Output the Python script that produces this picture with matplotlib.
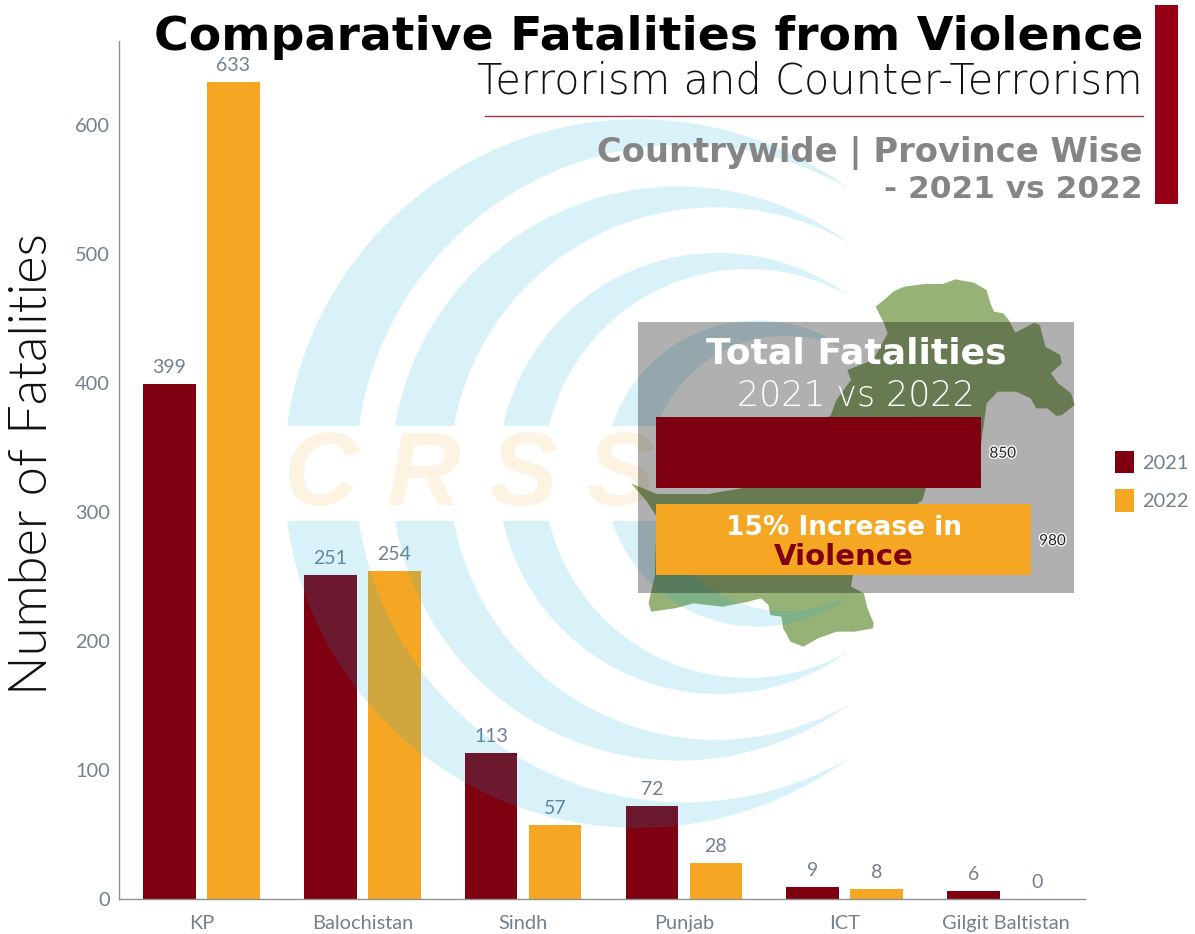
import numpy as np
import matplotlib
matplotlib.use("Agg")
import matplotlib.pyplot as plt
import matplotlib.patheffects as pe
from matplotlib.patches import Polygon, Rectangle

W, H = 1195, 934

categories = ["KP", "Balochistan", "Sindh", "Punjab", "ICT", "Gilgit Baltistan"]
fatalities_2021 = [399, 251, 113, 72, 9, 6]
fatalities_2022 = [633, 254, 57, 28, 8, 0]
y_ticks = [0, 100, 200, 300, 400, 500, 600]
total_years = ["2021", "2022"]
total_values = [850, 980]

MAROON = "#7F0010"
ORANGE = "#F5A623"
GREY = "#72808E"

plt.rcParams["font.family"] = ["Lato", "DejaVu Sans"]
fig = plt.figure(figsize=(W / 100, H / 100), dpi=100, facecolor="white")


def px_axes(x0, y0, x1, y1, **kw):
    return fig.add_axes([x0 / W, 1 - y1 / H, (x1 - x0) / W, (y1 - y0) / H], **kw)


# main chart
ax = px_axes(119, 41, 1085, 899)
ax.set_zorder(1)
ax.set_xlim(-0.513, 5.494)
ax.set_ylim(0, 665)
x = np.arange(len(categories))
b1 = ax.bar(x - 0.199, fatalities_2021, 0.328, color=MAROON, label="2021")
b2 = ax.bar(x + 0.199, fatalities_2022, 0.328, color=ORANGE, label="2022")
for bars, vals in ((b1, fatalities_2021), (b2, fatalities_2022)):
    for r, v in zip(bars, vals):
        ax.annotate(str(v), (r.get_x() + r.get_width() / 2, v), xytext=(0, 12),
                    textcoords="offset points", ha="center", va="center",
                    fontsize=14, color=GREY)
ax.set_xticks(x, categories)
ax.set_yticks(y_ticks)
ax.tick_params(axis="both", length=0, labelsize=14.4, labelcolor=GREY)
ax.tick_params(axis="x", pad=11.5)
ax.tick_params(axis="y", pad=6.5)
for s in ("top", "right"):
    ax.spines[s].set_visible(False)
for s in ("left", "bottom"):
    ax.spines[s].set_color("#8a8f94")
    ax.spines[s].set_linewidth(1)
ax.set_ylabel("Number of Fatalities", fontsize=37.8, fontweight=300, color="#111111", va="center")
ax.yaxis.set_label_coords((33 - 119) / 966, (899 - 464) / 858)
ax.legend(handles=[b1, b2], loc="upper left", bbox_to_anchor=(1109 / W, 1 - 445 / H),
          bbox_transform=fig.transFigure, frameon=False, fontsize=14.4,
          handlelength=0.95, handleheight=1.35, handletextpad=0.42, labelspacing=0.8,
          borderpad=0.3, borderaxespad=0, labelcolor=GREY)

# overlay in pixel coordinates
ov = px_axes(0, 0, W, H)
ov.set_zorder(2)
ov.set_xlim(0, W)
ov.set_ylim(H, 0)
ov.axis("off")
ov.patch.set_alpha(0)

# province map silhouette (zoomed-crop coordinates)
outline = np.array([
    (697, 110), (720, 90), (745, 65), (775, 50), (830, 42), (880, 42), (915, 28), (965, 38),
    (1000, 60), (1010, 100), (1020, 125), (1045, 130), (1060, 150), (1078, 188), (1130, 158),
    (1145, 165), (1160, 230), (1200, 255), (1205, 280), (1175, 310), (1195, 340), (1230, 370),
    (1240, 405), (1205, 435), (1190, 438), (1165, 415), (1135, 415), (1120, 385), (1080, 365),
    (1030, 365), (1000, 400), (995, 440), (985, 520), (835, 652), (825, 690), (810, 702),
    (635, 915), (630, 950), (665, 970), (675, 1015), (692, 1060), (690, 1075), (640, 1085),
    (590, 1085), (540, 1105), (500, 1130), (465, 1115), (445, 1075), (440, 1040), (410, 1035),
    (405, 1005), (385, 985), (350, 995), (280, 1010), (200, 1000), (150, 1015), (85, 1025),
    (78, 1000), (90, 940), (95, 915), (100, 740), (70, 690), (30, 640), (100, 672), (240, 672),
    (330, 655), (575, 435), (590, 390), (630, 330), (620, 300), (690, 270), (730, 190), (720, 160),
])
ov.add_patch(Polygon(np.c_[620 + outline[:, 0] / 2.727, 270 + outline[:, 1] / 3],
                     closed=True, fc="#96B276", ec="none", zorder=1))


# logo rings
def circle_through(left_x, tip_x, tip_dy, gap_dy=47.5):
    c = ((tip_x ** 2 + tip_dy ** 2) - (left_x ** 2 + gap_dy ** 2)) / (2 * (tip_x - left_x))
    return c, np.hypot(c - left_x, gap_dy)


def crescent(left_outer, left_inner, tip_x, tip_dy, sign, cy=473.5, gap=47.5):
    cxo, ro = circle_through(left_outer, tip_x, tip_dy)
    cxi, ri = circle_through(left_inner, tip_x, tip_dy)

    def pts(cx, r):
        a_gap = np.arctan2(gap, np.sqrt(r ** 2 - gap ** 2))
        a_tip = np.arctan2(tip_dy, cx - tip_x)
        a = np.linspace(a_gap, a_tip, 160)
        return np.c_[cx - r * np.cos(a), cy + sign * r * np.sin(a)]

    return np.vstack([pts(cxo, ro), pts(cxi, ri)[::-1]])


rings = [(287, 359, 850, 284), (395, 454, 850, 230), (503, 549, 850, 177), (612, 657, 850, 122)]
for lo, li, tx_, td in rings:
    for sign in (-1, 1):
        ov.add_patch(Polygon(crescent(lo, li, tx_, td, sign), closed=True,
                             fc="#00ADE4", alpha=0.15, ec="none", zorder=2))

ov.text(470, 478, "C R S S", fontsize=74, fontweight="bold", style="italic",
        family="Liberation Sans", color=ORANGE, alpha=0.13, ha="center", va="center", zorder=3)

# grey panel
ov.add_patch(Rectangle((638, 322), 436, 271, fc="black", alpha=0.31, ec="none", zorder=4))

# header
head = "DejaVu Sans"
ov.text(1143, 50, "Comparative Fatalities from Violence", fontsize=34.1, fontweight="bold",
        family=head, color="black", ha="right", va="baseline", zorder=6)
ov.text(1143, 93, "Terrorism and Counter-Terrorism", fontsize=29.9, fontweight="light",
        family=head, color="#111111", ha="right", va="baseline", zorder=6)
ov.plot([485, 1143], [115.5, 115.5], color="#A8323F", lw=1, zorder=6)
ov.text(1143, 162, "Countrywide | Province Wise", fontsize=24.3, fontweight="bold",
        family=head, color="#858585", ha="right", va="baseline", zorder=6)
ov.text(1143, 198, "- 2021 vs 2022", fontsize=22.5, fontweight="bold",
        family=head, color="#858585", ha="right", va="baseline", zorder=6)
ov.add_patch(Rectangle((1155, 5), 23, 199, fc="#950014", ec="none", zorder=6))

# inset total bars
ins = px_axes(656, 408.5, 656 + 1100 * 0.3825, 583.5)
ins.set_zorder(3)
ins.patch.set_alpha(0)
ins.set_xlim(0, 1100)
ins.set_ylim(1.5, -0.5)
ins.axis("off")
ib = ins.barh(total_years, total_values, 0.806, color=[MAROON, ORANGE])
for r, v in zip(ib, total_values):
    ins.annotate(str(v), (v, r.get_y() + r.get_height() / 2), xytext=(6, -1),
                 textcoords="offset points", va="center", ha="left", fontsize=11, color="#222222",
                 path_effects=[pe.withStroke(linewidth=2, foreground="white")])

tx = px_axes(0, 0, W, H)
tx.set_zorder(4)
tx.set_xlim(0, W)
tx.set_ylim(H, 0)
tx.axis("off")
tx.patch.set_alpha(0)
tx.text(856, 364, "Total Fatalities", fontsize=26, fontweight="bold", family=head,
        color="white", ha="center", va="baseline")
tx.text(856, 405, "2021 vs 2022", fontsize=25, fontweight="light", family=head,
        color="white", ha="center", va="baseline")
tx.text(844, 535, "15% Increase in", fontsize=19, fontweight="bold", family=head,
        color="white", ha="center", va="baseline")
tx.text(844, 565, "Violence", fontsize=21, fontweight="bold", family=head,
        color=MAROON, ha="center", va="baseline")

fig.savefig("out.png", dpi=100)
